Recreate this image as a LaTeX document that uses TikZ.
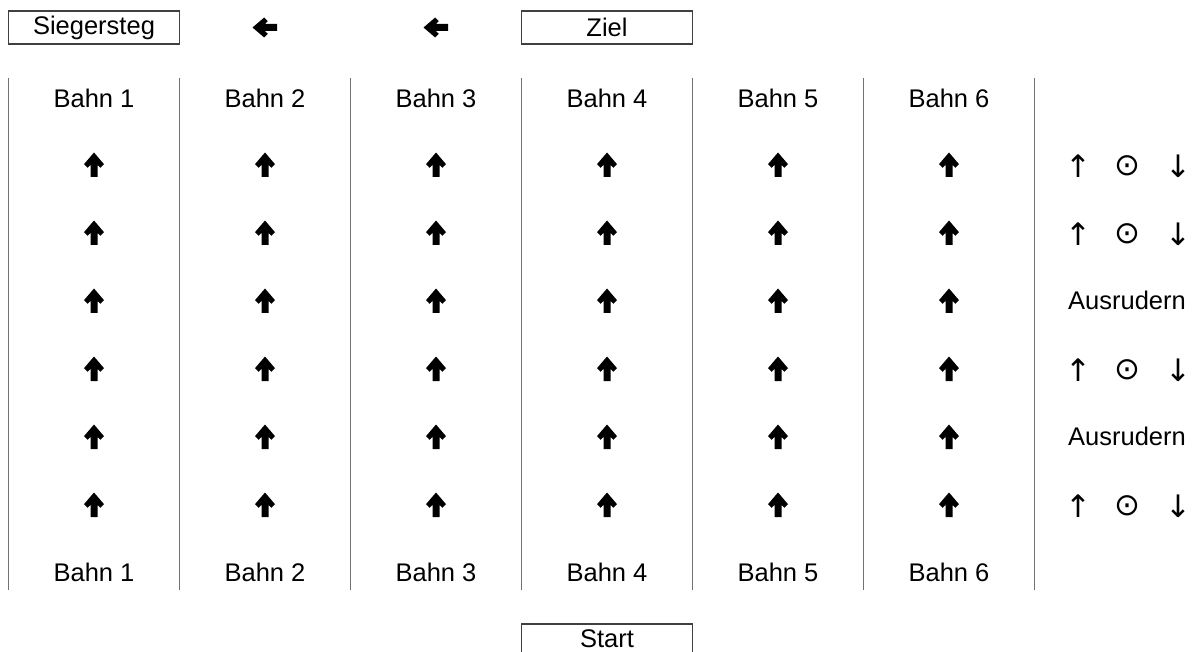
\documentclass[tikz,border=0pt]{standalone}
\usepackage{fontspec}
\setmainfont{Liberation Sans}
\newfontfamily\symfont{DejaVu Sans}
\tikzset{lane/.style={font=\fontsize{25.5}{30}\selectfont, inner sep=0pt},
         box/.style={draw=black!75, line width=1.2pt, minimum width=171pt, minimum height=33pt, inner sep=0pt, font=\fontsize{25.5}{30}\selectfont},
         sym/.style={font=\symfont\fontsize{31}{34}\selectfont, inner sep=0pt},
         sep/.style={draw=black!55, line width=1.2pt},
         pics/heavyup/.style={code={\fill (0,-12.5) -- (10,-0.8) -- (6.3,2.8) -- (3.5,-0.2) -- (3.5,12) -- (-3.5,12) -- (-3.5,-0.2) -- (-6.3,2.8) -- (-10,-0.8) -- cycle;}},
         pics/heavyleft/.style={code={\fill (-12.5,0) -- (-0.8,10) -- (2.8,6.3) -- (-0.2,3.5) -- (12,3.5) -- (12,-3.5) -- (-0.2,-3.5) -- (2.8,-6.3) -- (-0.8,-10) -- cycle;}}}

\begin{document}
\begin{tikzpicture}[x=1pt, y=-1pt]
        \clip (0,0) rectangle (1194,652);
        \useasboundingbox (0,0) rectangle (1194,652);

        % lane separators
        \foreach \x in {8.5,179.5,350.5,521.5,692.5,863.5,1034.5}
            \draw[sep] (\x,78) -- (\x,590);

        % boxes and direction
        \node[box](sieg) at (94,27.5){Siegersteg};
        \node[box](ziel) at (607,27.5){Ziel};
        \node[box, minimum height=40pt](start) at (607,644){};
        \node[lane](starttext) at (607,639){Start};
        \pic at (265,27.5) {heavyleft};
        \pic at (436,27.5) {heavyleft};

        % lanes
        \foreach \i [evaluate=\i as \x using {94+171*(\i-1)}] in {1,...,6}{
            \node[lane](top\i) at (\x,98){Bahn \i};
            \node[lane](bot\i) at (\x,572){Bahn \i};
            \foreach \y in {165,233,301,369,437,505}
                \pic at (\x,\y) {heavyup};
        }

        % right column
        \foreach \y/\r in {166/1,234/2,370/4,506/6}{
            \node[sym](up\r) at (1078,\y){↑};
            \node[sym](dot\r) at (1127,\y){⊙};
            \node[sym](down\r) at (1178,\y){↓};
        }
        \node[lane](aus3) at (1127,300){Ausrudern};
        \node[lane](aus5) at (1127,436){Ausrudern};
    \end{tikzpicture}
\end{document}
